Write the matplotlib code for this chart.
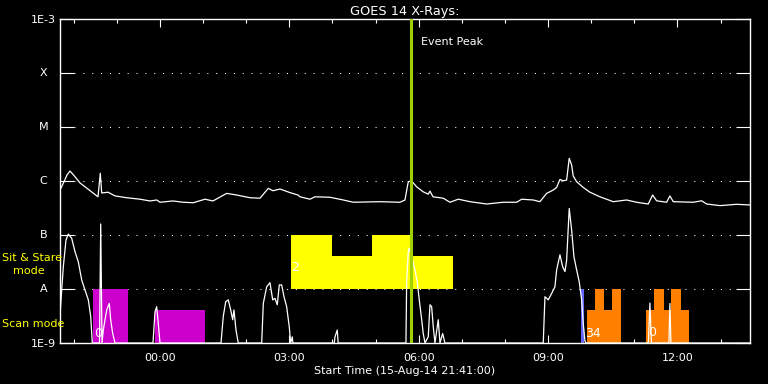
import numpy as np
import matplotlib
matplotlib.use("Agg")
import matplotlib.pyplot as plt

# GOES 14 light curves, hours since 21:41 (15-Aug-14), flux in W/m^2
t_long = [0.0, 0.093, 0.162, 0.232, 0.348, 0.464, 0.619, 0.765, 0.881, 0.934, 0.967,
          1.113, 1.275, 1.546, 1.855, 2.087, 2.242, 2.319, 2.620, 2.852, 3.091, 3.362,
          3.547, 3.865, 4.097, 4.405, 4.637, 4.830, 4.939, 5.101, 5.333, 5.518, 5.565,
          5.796, 5.912, 6.260, 6.569, 6.800, 7.419, 7.883, 7.999, 8.076, 8.154, 8.270,
          8.423, 8.539, 8.579, 8.648, 8.887, 9.042, 9.235, 9.506, 9.893, 10.278, 10.589,
          10.705, 10.974, 11.129, 11.284, 11.437, 11.516, 11.593, 11.669, 11.748, 11.808,
          11.864, 11.901, 11.980, 12.133, 12.288, 12.520, 12.829, 13.139, 13.371, 13.640,
          13.742, 13.835, 14.067, 14.143, 14.220, 14.683, 14.878, 14.994, 15.302, 15.689,
          16.0]
f_long = [6.8e-7, 9.7e-7, 1.29e-6, 1.53e-6, 1.20e-6, 9.2e-7, 7.4e-7, 6.0e-7, 5.1e-7, 1.39e-6,
          6.0e-7, 6.2e-7, 5.3e-7, 4.9e-7, 4.6e-7, 4.27e-7, 4.45e-7, 4.04e-7, 4.27e-7, 4.04e-7,
          3.96e-7, 4.6e-7, 4.27e-7, 5.9e-7, 5.5e-7, 4.9e-7, 4.8e-7, 7.3e-7, 6.6e-7, 7.1e-7,
          6.1e-7, 5.5e-7, 5.1e-7, 4.6e-7, 5.1e-7, 5.0e-7, 4.45e-7, 4.04e-7, 4.14e-7, 4.04e-7,
          4.45e-7, 9.7e-7, 1.0e-6, 7.8e-7, 6.3e-7, 5.7e-7, 6.5e-7, 5.1e-7, 4.8e-7, 4.04e-7,
          4.6e-7, 4.14e-7, 3.75e-7, 4.04e-7, 4.04e-7, 4.6e-7, 4.45e-7, 4.14e-7, 5.9e-7, 6.8e-7,
          7.6e-7, 1.07e-6, 1.01e-6, 1.04e-6, 2.63e-6, 1.98e-6, 1.24e-6, 9.7e-7, 7.6e-7, 6.2e-7,
          5.1e-7, 4.14e-7, 4.45e-7, 4.04e-7, 3.75e-7, 5.5e-7, 4.3e-7, 4.04e-7, 5.3e-7, 4.14e-7,
          4.04e-7, 4.3e-7, 3.75e-7, 3.5e-7, 3.7e-7, 3.6e-7]

t_short = [0.0, 0.077, 0.139, 0.192, 0.271, 0.348, 0.424, 0.503, 0.580, 0.656, 0.712, 0.749,
           0.916, 0.944, 0.974, 1.004, 1.083, 1.143, 1.175, 1.222, 1.275,
           2.156, 2.203, 2.242, 2.279, 2.319,
           3.733, 3.786, 3.842, 3.902, 3.958, 4.004, 4.034, 4.081, 4.134,
           4.677, 4.714, 4.793, 4.869, 4.932, 4.985, 5.038, 5.085, 5.140, 5.194, 5.256,
           5.316, 5.349, 5.386, 5.40,
           6.36, 6.376, 6.429, 6.45,
           8.022, 8.038, 8.076, 8.099, 8.178, 8.231, 8.284, 8.331, 8.387, 8.423, 8.463,
           8.539, 8.579, 8.618, 8.655, 8.695, 8.771, 8.811, 8.873, 8.926,
           11.206, 11.245, 11.322, 11.401, 11.477, 11.516, 11.593, 11.655, 11.709, 11.748,
           11.808, 11.864, 11.917, 11.980, 12.040, 12.096, 12.133, 12.172, 12.195,
           13.644, 13.679, 13.714, 14.120, 14.143, 14.166, 16.0]
f_short = [3.3e-9, 2.6e-8, 8.1e-8, 1.04e-7, 8.7e-8, 4.9e-8, 3.2e-8, 1.47e-8, 9.6e-9, 6.3e-9,
           3.1e-9, 1e-9,
           1e-9, 1.6e-7, 1e-9, 1.74e-9, 4.1e-9, 5.4e-9, 2.7e-9, 1.5e-9, 1e-9,
           1e-9, 3.8e-9, 4.7e-9, 2.3e-9, 1e-9,
           1e-9, 3.1e-9, 5.8e-9, 6.3e-9, 4.1e-9, 2.7e-9, 4.1e-9, 1.74e-9, 1e-9,
           1e-9, 5.4e-9, 1.1e-8, 1.31e-8, 6.3e-9, 6.7e-9, 5.1e-9, 1.19e-8, 1.19e-8, 7.2e-9,
           4.7e-9, 2.0e-9, 1e-9, 1.3e-9, 1e-9,
           1e-9, 1.3e-9, 1.74e-9, 1e-9,
           1e-9, 1.36e-8, 4.9e-8, 5.7e-8, 3.4e-8, 2.25e-8, 1.36e-8, 6.3e-9, 2.7e-9, 1.5e-9, 1e-9,
           1.3e-9, 5.1e-9, 4.7e-9, 2.0e-9, 1e-9, 2.7e-9, 1e-9, 1.5e-9, 1e-9,
           1e-9, 7.2e-9, 6.3e-9, 8.3e-9, 1.1e-8, 2.25e-8, 4.3e-8, 2.6e-8, 2.1e-8, 3.4e-8,
           3.1e-7, 1.24e-7, 4.0e-8, 2.25e-8, 1.36e-8, 6.3e-9, 2.3e-9, 1.1e-9, 1e-9,
           1e-9, 5.5e-9, 1e-9, 1e-9, 5.4e-9, 1e-9, 1e-9]

# observation blocks (start, end in hours; top flux)
scan_start = [0.758, 2.203]
scan_end = [1.570, 3.362]
scan_top = [1e-8, 4.1e-9]

sit_start = [5.356, 6.307, 7.234, 8.185]
sit_end = [6.307, 7.234, 8.185, 9.119]
sit_top = [1e-7, 4.1e-8, 1e-7, 4.1e-8]

blue_start = [12.073]
blue_end = [12.149]
blue_top = [1e-8]

orange_start = [12.212, 12.404, 12.613, 12.806, 13.587, 13.772, 14.004, 14.166, 14.391]
orange_end = [12.404, 12.613, 12.806, 13.007, 13.772, 14.004, 14.166, 14.391, 14.577]
orange_top = [4.1e-9, 1e-8, 4.1e-9, 1e-8, 4.1e-9, 1e-8, 4.1e-9, 1e-8, 4.1e-9]

event_peak = 8.13
start_offset = 19 / 60.0  # 21:41 -> 22:00

levels = [1e-8, 1e-7, 1e-6, 1e-5, 1e-4]
level_names = ["A", "B", "C", "M", "X"]

plt.rcParams['font.family'] = 'DejaVu Sans'
fs = 8

fig = plt.figure(figsize=(7.68, 3.84), dpi=100, facecolor="black")
ax = fig.add_axes([60 / 768, 41 / 384, 690 / 768, 324 / 384], facecolor="black")
ax.set_yscale("log")
ax.set_ylim(1e-9, 1e-3)
ax.set_xlim(0, 16.0)


def blocks(starts, ends, tops, bottom, color):
    s = np.array(starts)
    w = np.array(ends) - s
    h = np.array(tops) - bottom
    ax.bar(s, h, width=w, bottom=bottom, align="edge", color=color, linewidth=0, zorder=2)


blocks(scan_start, scan_end, scan_top, 1e-9, "#cc00cc")
blocks(sit_start, sit_end, sit_top, 1e-8, "#ffff00")
blocks(blue_start, blue_end, blue_top, 1e-9, "#6464ff")
blocks(orange_start, orange_end, orange_top, 1e-9, "#ff8000")

for lv in levels:
    ax.axhline(lv, xmin=14 / 690, xmax=1 - 13 / 690, color="white", lw=0.75,
               linestyle=(0, (1, 7.5)), zorder=1)

ax.plot(t_long, f_long, color="white", lw=0.9, zorder=3)
ax.plot(t_short, f_short, color="white", lw=0.9, zorder=3)

ax.axvline(event_peak, color="#a0d000", lw=2.2, zorder=4)
ax.text(event_peak + 0.23, 10 ** -3.43, "Event Peak", color="white", fontsize=fs,
        va="center", ha="left")

# observation labels
lab = dict(color="white", fontsize=9, ha="center", va="center", zorder=5)
ax.text(0.88, 10 ** -8.815, "0", **lab)
ax.text(5.45, 10 ** -7.6, "2", **lab)
ax.text(12.35, 10 ** -8.815, "34", **lab)
ax.text(13.72, 10 ** -8.8, "0", **lab)

# axes styling
for sp in ax.spines.values():
    sp.set_color("white")
    sp.set_linewidth(1.0)

ax.set_yticks([1e-9] + levels + [1e-3])
ax.set_yticklabels(["1E-9", "", "", "", "", "", "1E-3"])
ax.yaxis.set_minor_locator(matplotlib.ticker.NullLocator())
ax.tick_params(axis="y", which="major", direction="in", length=10, width=0.8,
               colors="white", labelsize=fs, left=True, right=True, pad=3)
ytr = ax.get_yaxis_transform()
for lv, nm in zip(levels, level_names):
    ax.text(-0.024, lv, nm, transform=ytr, color="white", fontsize=fs,
            ha="center", va="center")

major = start_offset + 2 + 3 * np.arange(5)
minor = start_offset + np.arange(16)
ax.set_xticks(major)
ax.set_xticklabels(["00:00", "03:00", "06:00", "09:00", "12:00"])
ax.set_xticks(minor, minor=True)
ax.tick_params(axis="x", which="major", direction="in", length=6, width=0.8,
               colors="white", labelsize=fs, top=True, bottom=True, pad=7)
ax.tick_params(axis="x", which="minor", direction="in", length=3, width=0.8,
               colors="white", top=True, bottom=True)

ax.set_xlabel("Start Time (15-Aug-14 21:41:00)", color="white", fontsize=fs, labelpad=2)
ax.set_title("GOES 14 X-Rays:", color="white", fontsize=9.3, pad=3)

fig.text(2 / 768, 1 - 258 / 384, "Sit & Stare", color="#ffff00", fontsize=fs,
         ha="left", va="center")
fig.text(13 / 768, 1 - 271 / 384, "mode", color="#ffff00", fontsize=fs,
         ha="left", va="center")
fig.text(2 / 768, 1 - 324 / 384, "Scan mode", color="#ffff00", fontsize=fs,
         ha="left", va="center")

fig.savefig("out.png", dpi=100, facecolor="black")
